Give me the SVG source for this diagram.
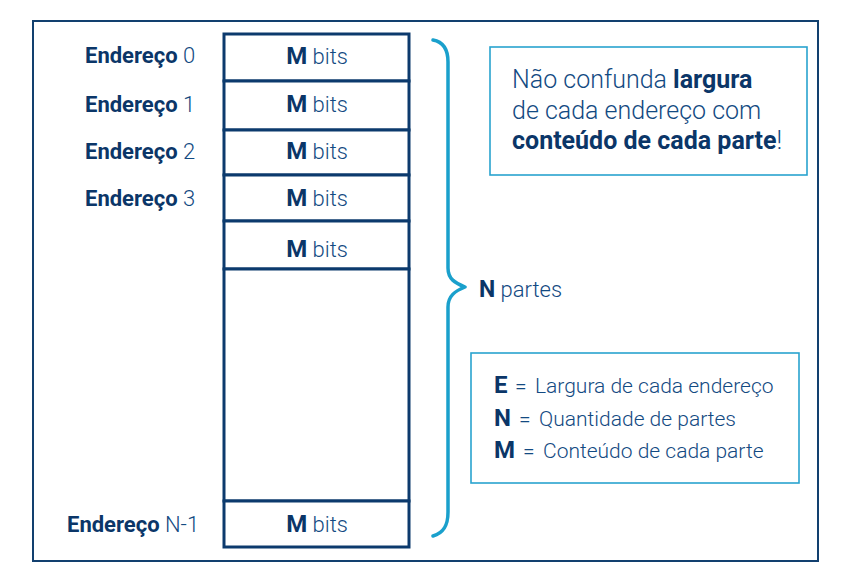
<svg xmlns="http://www.w3.org/2000/svg" width="850" height="578" viewBox="0 0 850 578">
<style>
.frame{fill:none;stroke:#12406f;stroke-width:2}
.cell{fill:#fff;stroke:#0c3a6d;stroke-width:3}
.box{fill:#fff;stroke:#29a3cf;stroke-width:1.6}
.brace{fill:none;stroke:#1aa0cc;stroke-width:3.5;stroke-linecap:round;stroke-linejoin:round}
text{font-family:Roboto,"Liberation Sans",sans-serif;fill:#0c3a6d}
.b{font-weight:700;fill:#0b3668}
.l{font-weight:300;fill:#134a82}
.lbl{font-size:22px}
.cellt{font-size:22px;text-anchor:middle}
.cellt .b{font-size:24px}
.note{font-size:25px}
.leg{font-size:21px}
.leg .b{font-size:24px}
</style>
<rect width="850" height="578" fill="#fff"/>
<rect class="frame" x="33" y="21" width="785" height="540"/>
<g id="memory">
  <rect class="cell" x="224" y="34" width="185" height="47"/>
  <rect class="cell" x="224" y="81" width="185" height="49"/>
  <rect class="cell" x="224" y="130" width="185" height="45"/>
  <rect class="cell" x="224" y="175" width="185" height="46"/>
  <rect class="cell" x="224" y="221" width="185" height="48"/>
  <rect class="cell" x="224" y="269" width="185" height="232"/>
  <rect class="cell" x="224" y="501" width="185" height="46"/>
</g>
<g id="cell-text">
  <text class="cellt" x="317" y="64"><tspan class="b">M</tspan><tspan class="l"> bits</tspan></text>
  <text class="cellt" x="317" y="112"><tspan class="b">M</tspan><tspan class="l"> bits</tspan></text>
  <text class="cellt" x="317" y="159"><tspan class="b">M</tspan><tspan class="l"> bits</tspan></text>
  <text class="cellt" x="317" y="206"><tspan class="b">M</tspan><tspan class="l"> bits</tspan></text>
  <text class="cellt" x="317" y="257"><tspan class="b">M</tspan><tspan class="l"> bits</tspan></text>
  <text class="cellt" x="317" y="532"><tspan class="b">M</tspan><tspan class="l"> bits</tspan></text>
</g>
<g id="addresses">
  <text class="lbl" x="85" y="63"><tspan class="b">Endereço</tspan><tspan class="l"> 0</tspan></text>
  <text class="lbl" x="85" y="112"><tspan class="b">Endereço</tspan><tspan class="l"> 1</tspan></text>
  <text class="lbl" x="85" y="159"><tspan class="b">Endereço</tspan><tspan class="l"> 2</tspan></text>
  <text class="lbl" x="85" y="206"><tspan class="b">Endereço</tspan><tspan class="l"> 3</tspan></text>
  <text class="lbl" x="67" y="532"><tspan class="b">Endereço</tspan><tspan class="l"> N-1</tspan></text>
</g>
<g id="connectors">
  <path class="brace" d="M433,40 C444,42 448,50 448,62 L448,268 C448,279 455,283 465,287 C455,291 448,296 448,307 L448,512 C448,525 444,533 433,536"/>
</g>
<g id="n-partes">
  <text class="lbl" x="479" y="297"><tspan class="b" font-size="23">N</tspan><tspan class="l"> partes</tspan></text>
</g>
<g id="note">
  <rect class="box" x="490" y="47" width="317" height="128"/>
  <text class="note" x="512" y="88"><tspan class="l">Não confunda </tspan><tspan class="b">largura</tspan></text>
  <text class="note" x="512" y="119"><tspan class="l">de cada endereço com</tspan></text>
  <text class="note" x="512" y="149"><tspan class="b">conteúdo de cada parte</tspan><tspan class="l">!</tspan></text>
</g>
<g id="legend">
  <rect class="box" x="471" y="353" width="328" height="130"/>
  <text class="leg" y="393"><tspan class="b" x="494">E</tspan><tspan class="l" x="515">=</tspan><tspan class="l" x="535">Largura de cada endereço</tspan></text>
  <text class="leg" y="426"><tspan class="b" x="494">N</tspan><tspan class="l" x="519">=</tspan><tspan class="l" x="539">Quantidade de partes</tspan></text>
  <text class="leg" y="458"><tspan class="b" x="494">M</tspan><tspan class="l" x="523">=</tspan><tspan class="l" x="543">Conteúdo de cada parte</tspan></text>
</g>
</svg>
